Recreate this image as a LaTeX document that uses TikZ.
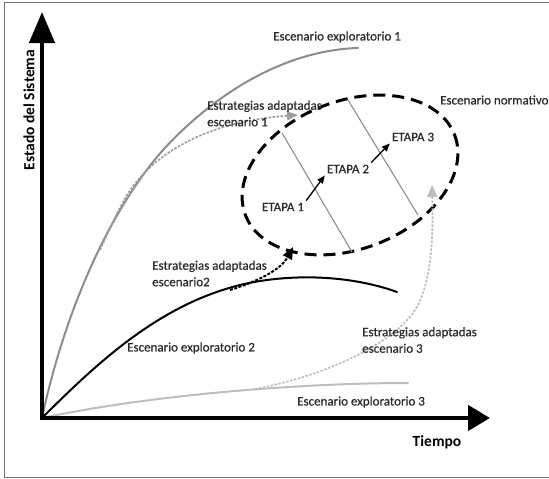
\documentclass[tikz,border=0pt]{standalone}
\usepackage{fontspec}
\setmainfont{Carlito}
\newfontfamily\lblfont{Carlito}[FakeBold=0.6]
\usetikzlibrary{arrows.meta}
\definecolor{txt}{HTML}{2A2A2A}
\definecolor{cgray}{HTML}{8C8C8C}
\definecolor{clight}{HTML}{BDBDBD}
\definecolor{framec}{HTML}{707070}
\tikzset{
  lbl/.style={font=\lblfont\fontsize{13}{16.5}\selectfont, text=txt, inner sep=0pt, align=left, anchor=west},
  axlbl/.style={font=\fontsize{15.5}{18}\selectfont\bfseries, text=black, inner sep=0pt},
  etapa/.style={font=\lblfont\fontsize{13}{16}\selectfont, text=txt, inner sep=2pt},
  axisline/.style={line width=4.5pt, black, line join=miter},
  curveline/.style={line width=2pt, line cap=round},
  etarrow/.style={line width=1.3pt, black, -{Triangle[length=8pt,width=6.5pt]}},
  gdot/.style={line width=1.7pt, dash pattern=on 2.5pt off 1.5pt},
}
\begin{document}
\begin{tikzpicture}[x=1pt,y=-1pt]
\useasboundingbox (0,0) rectangle (549,479);
% frame
\draw[framec, line width=1pt] (553,2) -- (4,2) -- (4,477) -- (553,477);

% curves
\draw[curveline, cgray] (42,418) .. controls (65,310) and (110,210) .. (163,150)
      .. controls (220,88) and (290,50) .. (358,48);
\draw[curveline, black] (42,418) .. controls (100,360) and (160,305) .. (240,285)
      .. controls (290,273) and (350,275) .. (397,292);
\draw[curveline, clight] (42,418) .. controls (150,395) and (300,383) .. (408,383);

% normative ellipse
\coordinate (C) at (350,175);
\draw[line width=3pt, dash pattern=on 12pt off 7pt, rotate around={21:(C)}] (C) ellipse [x radius=112, y radius=74];

% stage separators
\draw[cgray, line width=1.1pt] (282,133) -- (352,252);
\draw[cgray, line width=1.1pt] (348,100) -- (418,215);

% stages
\node[etapa] (e1) at (283,207) {ETAPA 1};
\node[etapa] (e2) at (348,169) {ETAPA 2};
\node[etapa] (e3) at (413,137) {ETAPA 3};
\draw[etarrow] (e1.north east) -- (e2.south west);
\draw[etarrow] (e2.north east) -- (e3.south west);

% strategy arrows
\coordinate (a1s) at (100,250);
\coordinate (a1m) at (127,195);
\coordinate (a1e) at (298,115);
\draw[gdot, cgray!85, -{Triangle[length=11pt,width=9pt]}] (a1s) .. controls (108,232) and (117,212) .. (a1m)
      .. controls (150,158) and (200,122) .. (a1e);
\coordinate (a2s) at (230,290);
\coordinate (a2e) at (293,247);
\draw[line width=2pt, dash pattern=on 3pt off 1.5pt, black, -{Triangle[length=12pt,width=10pt]}] (a2s) .. controls (262,280) and (282,268) .. (a2e);
\coordinate (a3s) at (255,389);
\coordinate (a3m) at (418,305);
\coordinate (a3e) at (432,185);
\draw[gdot, clight, -{Triangle[length=12pt,width=10pt]}] (a3s) .. controls (330,375) and (400,340) .. (a3m)
      .. controls (433,275) and (433,230) .. (a3e);

% axes
\coordinate (O) at (42,418);
\coordinate (ytip) at (42,12);
\coordinate (xtip) at (490,418);
\draw[axisline, {Triangle[length=31pt,width=25pt]}-{Triangle[length=22pt,width=25pt]}] (ytip) -- (O) -- (xtip);

% labels
\node[lbl] (ex1) at (273,37) {Escenario exploratorio 1};
\node[lbl] (ex2) at (127,348) {Escenario exploratorio 2};
\node[lbl] (ex3) at (297,402) {Escenario exploratorio 3};
\node[lbl] (norm) at (440,100) {Escenario normativo};
\node[lbl] (s1) at (207,113.5) {Estrategias adaptadas\\escenario 1};
\node[lbl] (s2) at (152,273.5) {Estrategias adaptadas\\escenario2};
\node[lbl] (s3) at (362,340) {Estrategias adaptadas\\escenario 3};
\node[axlbl] (tiempo) at (437,442) {Tiempo};
\node[axlbl, rotate=90] (estado) at (29,110) {Estado del Sistema};
\end{tikzpicture}
\end{document}
